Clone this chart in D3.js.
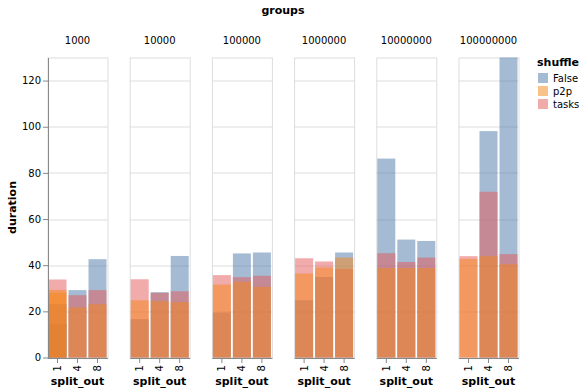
<!DOCTYPE html>
<html>
<head>
<meta charset="utf-8">
<script src="https://cdn.jsdelivr.net/npm/d3@7"></script>
<style>
  body { margin: 0; background: #fff; }
  text { font-family: "DejaVu Sans", sans-serif; fill: #000; }
</style>
</head>
<body>
<svg id="chart" width="585" height="392"></svg>
<script>
// ---- data ----
const groups = ["1000", "10000", "100000", "1000000", "10000000", "100000000"];
const splitOuts = ["1", "4", "8"];
const shuffles = ["False", "p2p", "tasks"];
const colors = ["#4c78a8", "#f58518", "#e45756"];
const yTicks = [0, 20, 40, 60, 80, 100, 120];

// duration per group (rows) x split_out (columns)
const durationFalse = [
  [23.1, 29.2, 42.6],
  [16.6, 28.3, 44.0],
  [19.5, 45.1, 45.5],
  [24.8, 34.9, 45.5],
  [86.2, 51.1, 50.5],
  [null, 98.1, 130.0]
];
const durationP2p = [
  [29.3, 21.7, 23.1],
  [24.8, 24.4, 24.0],
  [31.6, 32.8, 30.6],
  [36.4, 39.0, 43.3],
  [38.8, 38.8, 38.8],
  [42.7, 43.9, 40.4]
];
const durationTasks = [
  [33.8, 27.0, 29.2],
  [33.9, 28.0, 28.7],
  [35.7, 34.8, 35.4],
  [43.0, 41.6, 38.4],
  [45.2, 41.4, 43.3],
  [43.9, 71.8, 44.8]
];
// additional repeated runs: [group, split_out, shuffle, duration]
const extraRuns = [
  ["1000", "1", "False", 14.5],
  ["1000", "1", "p2p", 28.0]
];

// ---- build records (draw order: False, tasks, p2p) ----
const records = [];
function addSeries(name, table) {
  groups.forEach((g, gi) => splitOuts.forEach((s, si) => {
    const v = table[gi][si];
    if (v != null) records.push({ group: g, split: s, shuffle: name, duration: v });
  }));
}
addSeries("False", durationFalse);
extraRuns.filter(r => r[2] === "False").forEach(r => records.push({ group: r[0], split: r[1], shuffle: r[2], duration: r[3] }));
addSeries("tasks", durationTasks);
extraRuns.filter(r => r[2] === "tasks").forEach(r => records.push({ group: r[0], split: r[1], shuffle: r[2], duration: r[3] }));
addSeries("p2p", durationP2p);
extraRuns.filter(r => r[2] === "p2p").forEach(r => records.push({ group: r[0], split: r[1], shuffle: r[2], duration: r[3] }));

// ---- layout ----
const svg = d3.select("#chart");
const plotTop = 57.5, plotH = 300, facetW = 60, facetGap = 82.2, firstX = 47.5;
const color = d3.scaleOrdinal().domain(shuffles).range(colors);
const facetX = d3.scaleBand().domain(groups).range([firstX, firstX + facetGap * groups.length]).paddingInner(0).paddingOuter(0);
const x = d3.scaleBand().domain(splitOuts).range([0, facetW]).paddingInner(0.1).paddingOuter(0.05);
const y = d3.scaleLinear().domain([0, 130]).range([plotH, 0]);

// top title
svg.append("text").attr("x", firstX + (facetGap * 5 + facetW) / 2).attr("y", 14)
  .attr("text-anchor", "middle").style("font-size", "11px").style("font-weight", "bold").text("groups");

groups.forEach((g, gi) => {
  const fx = facetX(g);
  const gEl = svg.append("g").attr("transform", `translate(${fx},${plotTop})`);
  // header
  svg.append("text").attr("x", fx + facetW / 2).attr("y", 44).attr("text-anchor", "middle")
    .style("font-size", "10px").text(g);
  // grid
  gEl.append("g").selectAll("line").data(yTicks).join("line")
    .attr("x1", 0).attr("x2", facetW).attr("y1", d => Math.round(y(d)) + 0.5).attr("y2", d => Math.round(y(d)) + 0.5)
    .attr("stroke", "#ddd").attr("stroke-width", 1);
  // view border
  gEl.append("rect").attr("x", 0.5).attr("y", 0.5).attr("width", facetW).attr("height", plotH)
    .attr("fill", "none").attr("stroke", "#ddd");
  // bars
  gEl.append("g").selectAll("rect").data(records.filter(r => r.group === g)).join("rect")
    .attr("x", d => x(d.split)).attr("width", x.bandwidth())
    .attr("y", d => y(d.duration)).attr("height", d => y(0) - y(d.duration))
    .attr("fill", d => color(d.shuffle)).attr("fill-opacity", 0.5);
  // x axis
  const xa = gEl.append("g").attr("transform", `translate(0,${plotH + 0.5})`)
    .call(d3.axisBottom(x).tickSize(5).tickSizeOuter(0));
  xa.select(".domain").attr("stroke", "#888");
  xa.selectAll(".tick line").attr("stroke", "#888");
  xa.selectAll(".tick text").attr("transform", "rotate(-90)").attr("text-anchor", "end")
    .attr("x", -7).attr("y", 0).attr("dy", "0.35em").style("font-size", "10px").style("font-family", "DejaVu Sans, sans-serif");
  svg.append("text").attr("x", fx + facetW / 2).attr("y", 385).attr("text-anchor", "middle")
    .style("font-size", "11px").style("font-weight", "bold").text("split_out");
  // y axis on first facet
  if (gi === 0) {
    const ya = gEl.append("g").attr("transform", "translate(0.5,0)")
      .call(d3.axisLeft(y).tickValues(yTicks).tickSize(5).tickSizeOuter(0));
    ya.select(".domain").attr("stroke", "#888");
    ya.selectAll(".tick line").attr("stroke", "#888");
    ya.selectAll(".tick text").attr("x", -7).style("font-size", "10px").style("font-family", "DejaVu Sans, sans-serif");
  }
});

// y title
svg.append("text").attr("transform", `translate(16,${plotTop + plotH / 2}) rotate(-90)`)
  .attr("text-anchor", "middle").style("font-size", "11px").style("font-weight", "bold").text("duration");

// legend
const lg = svg.append("g").attr("transform", "translate(537,0)");
lg.append("text").attr("x", 0).attr("y", 66).style("font-size", "11px").style("font-weight", "bold").text("shuffle");
shuffles.forEach((s, i) => {
  lg.append("rect").attr("x", 1).attr("y", 73 + i * 13).attr("width", 10).attr("height", 10)
    .attr("fill", color(s)).attr("fill-opacity", 0.5);
  lg.append("text").attr("x", 16).attr("y", 82 + i * 13).style("font-size", "10px").text(s);
});
</script>
</body>
</html>
